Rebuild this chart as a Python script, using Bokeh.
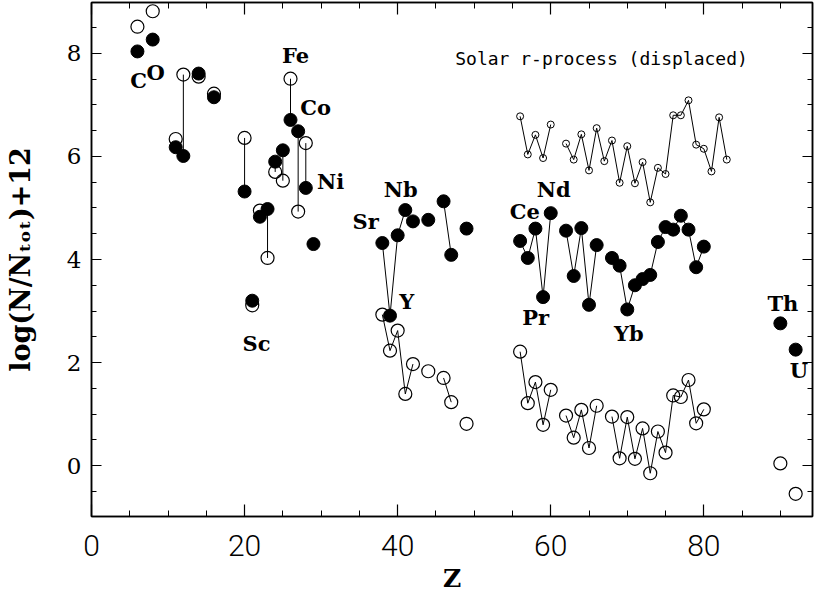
from bokeh.plotting import figure
from bokeh.models import ColumnDataSource, LinearAxis, SingleIntervalTicker, Label, Range1d
from bokeh.core.properties import value
from bokeh.embed import file_html
from bokeh.resources import INLINE

# ---- data ----
star_z = [6, 8, 11, 12, 14, 16, 20, 21, 22, 23, 24, 25, 26, 27, 28, 29,
          38, 39, 40, 41, 42, 44, 46, 47, 49,
          56, 57, 58, 59, 60, 62, 63, 64, 65, 66,
          68, 69, 70, 71, 72, 73, 74, 75, 76, 77, 78, 79, 80, 90, 92]
star_v = [8.04, 8.27, 6.18, 6.01, 7.61, 7.15, 5.32, 3.20, 4.83, 4.98, 5.90, 6.12, 6.71, 6.49, 5.39, 4.30,
          4.32, 2.91, 4.47, 4.96, 4.74, 4.77, 5.13, 4.09, 4.60,
          4.36, 4.03, 4.60, 3.27, 4.90, 4.56, 3.68, 4.61, 3.12, 4.28,
          4.03, 3.88, 3.03, 3.50, 3.62, 3.70, 4.34, 4.63, 4.58, 4.85, 4.58, 3.85, 4.25, 2.76, 2.25]

sun_z = [6, 8, 11, 12, 14, 16, 20, 21, 22, 23, 24, 25, 26, 27, 28,
         38, 39, 40, 41, 42, 44, 46, 47, 49,
         56, 57, 58, 59, 60, 62, 63, 64, 65, 66,
         68, 69, 70, 71, 72, 73, 74, 75, 76, 77, 78, 79, 80, 90, 92]
sun_v = [8.52, 8.82, 6.34, 7.59, 7.55, 7.22, 6.36, 3.11, 4.95, 4.03, 5.70, 5.53, 7.51, 4.93, 6.26,
         2.93, 2.23, 2.62, 1.39, 1.97, 1.83, 1.70, 1.23, 0.81,
         2.21, 1.21, 1.62, 0.79, 1.47, 0.97, 0.54, 1.08, 0.34, 1.16,
         0.95, 0.14, 0.94, 0.13, 0.72, -0.15, 0.66, 0.25, 1.36, 1.33, 1.66, 0.82, 1.09, 0.04, -0.55]

rproc_z = [56, 57, 58, 59, 60, 62, 63, 64, 65, 66, 67, 68, 69, 70, 71, 72, 73, 74, 75,
           76, 77, 78, 79, 80, 81, 82, 83]
rproc_v = [6.78, 6.04, 6.42, 5.97, 6.62, 6.25, 5.94, 6.43, 5.73, 6.55, 5.91, 6.31, 5.49, 6.20, 5.48,
           5.89, 5.11, 5.78, 5.66, 6.80, 6.80, 7.09, 6.23, 6.15, 5.71, 6.76, 5.94]

pair_z = [12, 20, 23, 24, 25, 26, 27, 28]
star_links = [[38, 39, 40, 41], [46, 47], [56, 57, 58, 59, 60], [62, 63, 64, 65, 66],
              list(range(68, 81))]
sun_links = [[38, 39, 40, 41, 42], [46, 47], [56, 57, 58, 59, 60], [62, 63, 64, 65, 66],
             list(range(68, 81))]
rproc_links = [[56, 57, 58, 59, 60], list(range(62, 84))]

label_text = ["C", "O", "Fe", "Co", "Ni", "Sc", "Sr", "Nb", "Y", "Ce", "Nd", "Pr", "Yb", "Th", "U"]
label_z = [6.14, 8.37, 26.67, 29.28, 31.24, 21.57, 35.82, 40.39, 41.18, 56.60, 60.39, 58.04, 70.20, 90.33, 92.42]
label_v = [7.48, 7.63, 7.96, 6.95, 5.51, 2.37, 4.74, 5.36, 3.18, 4.93, 5.36, 2.87, 2.56, 3.15, 1.84]

x_tick_step = 20
y_tick_step = 2

# ---- figure ----
p = figure(width=814, height=602, x_range=Range1d(0, 94.2), y_range=Range1d(-0.99, 8.99),
           output_backend="svg", toolbar_location=None,
           min_border_left=91, min_border_right=2, min_border_top=2, min_border_bottom=86)
p.grid.visible = False
p.outline_line_color = "black"
p.outline_line_width = 1.5
p.background_fill_color = "white"
p.border_fill_color = "white"

p.add_layout(LinearAxis(), "right")
p.add_layout(LinearAxis(), "above")

for ax in p.xaxis:
    ax.ticker = SingleIntervalTicker(interval=x_tick_step, num_minor_ticks=4)
    ax.major_tick_in = 12
    ax.major_tick_out = 0
    ax.minor_tick_in = 6
    ax.minor_tick_out = 0
    ax.axis_line_width = 1.5
    ax.major_tick_line_width = 1.2
    ax.minor_tick_line_width = 1
for ax in p.yaxis:
    ax.ticker = SingleIntervalTicker(interval=y_tick_step, num_minor_ticks=4)
    ax.major_tick_in = 10
    ax.major_tick_out = 0
    ax.minor_tick_in = 5
    ax.minor_tick_out = 0
    ax.axis_line_width = 1.5
    ax.major_tick_line_width = 1.2
    ax.minor_tick_line_width = 1

bottom = p.below[0]
bottom.major_label_text_font = "Roboto Light"
bottom.major_label_text_font_size = "30px"
bottom.major_label_text_color = "black"
bottom.major_label_standoff = 18
bottom.axis_label = "Z"
bottom.axis_label_text_font = "DejaVu Serif"
bottom.axis_label_text_font_size = "25px"
bottom.axis_label_text_font_style = "bold"
bottom.axis_label_text_color = "black"
bottom.axis_label_standoff = 5

left = p.left[0]
left.major_label_text_font = "DejaVu Serif"
left.major_label_text_font_size = "23px"
left.major_label_text_color = "black"
left.major_label_standoff = 10
left.axis_label = "log(N/N\u209c\u2092\u209c)+12"
left.axis_label_text_font = "DejaVu Serif"
left.axis_label_text_font_size = "27px"
left.axis_label_text_font_style = "bold"
left.axis_label_text_color = "black"
left.axis_label_standoff = 28

for ax in (p.above[0], p.right[0]):
    ax.major_label_text_font_size = "0px"
    ax.major_label_text_color = None
    ax.major_label_standoff = 0

# ---- connector lines ----
star_map = dict(zip(star_z, star_v))
sun_map = dict(zip(sun_z, sun_v))
r_map = dict(zip(rproc_z, rproc_v))

def chains(groups, m):
    xs, ys = [], []
    for g in groups:
        xs.append([z for z in g if z in m])
        ys.append([m[z] for z in g if z in m])
    return xs, ys

p.segment(x0=pair_z, y0=[star_map[z] for z in pair_z], x1=pair_z, y1=[sun_map[z] for z in pair_z],
          line_color="black", line_width=1)
xs, ys = chains(star_links, star_map)
p.multi_line(xs, ys, line_color="black", line_width=1)
xs, ys = chains(sun_links, sun_map)
p.multi_line(xs, ys, line_color="black", line_width=1)
xs, ys = chains(rproc_links, r_map)
p.multi_line(xs, ys, line_color="black", line_width=1)

# ---- markers ----
p.scatter(rproc_z, rproc_v, marker="circle", size=7, fill_color=None, line_color="black", line_width=1)
p.scatter(sun_z, sun_v, marker="circle", size=13, fill_color=None, line_color="black", line_width=1.2)
p.scatter(star_z, star_v, marker="circle", size=13, fill_color="black", line_color="black")

# ---- element labels ----
lab_src = ColumnDataSource(dict(x=label_z, y=label_v, t=label_text))
p.text(x="x", y="y", text="t", source=lab_src, text_font=value("DejaVu Serif"),
       text_font_size=value("21px"), text_font_style="bold",
       text_align="center", text_baseline="middle", text_color="black")

p.add_layout(Label(x=85.75, y=7.90, text="Solar r-process (displaced)", text_font="DejaVu Sans Mono",
                   text_font_size="18px", text_align="right", text_baseline="middle", text_color="black"))

open("out.html", "w").write(file_html(p, INLINE))
